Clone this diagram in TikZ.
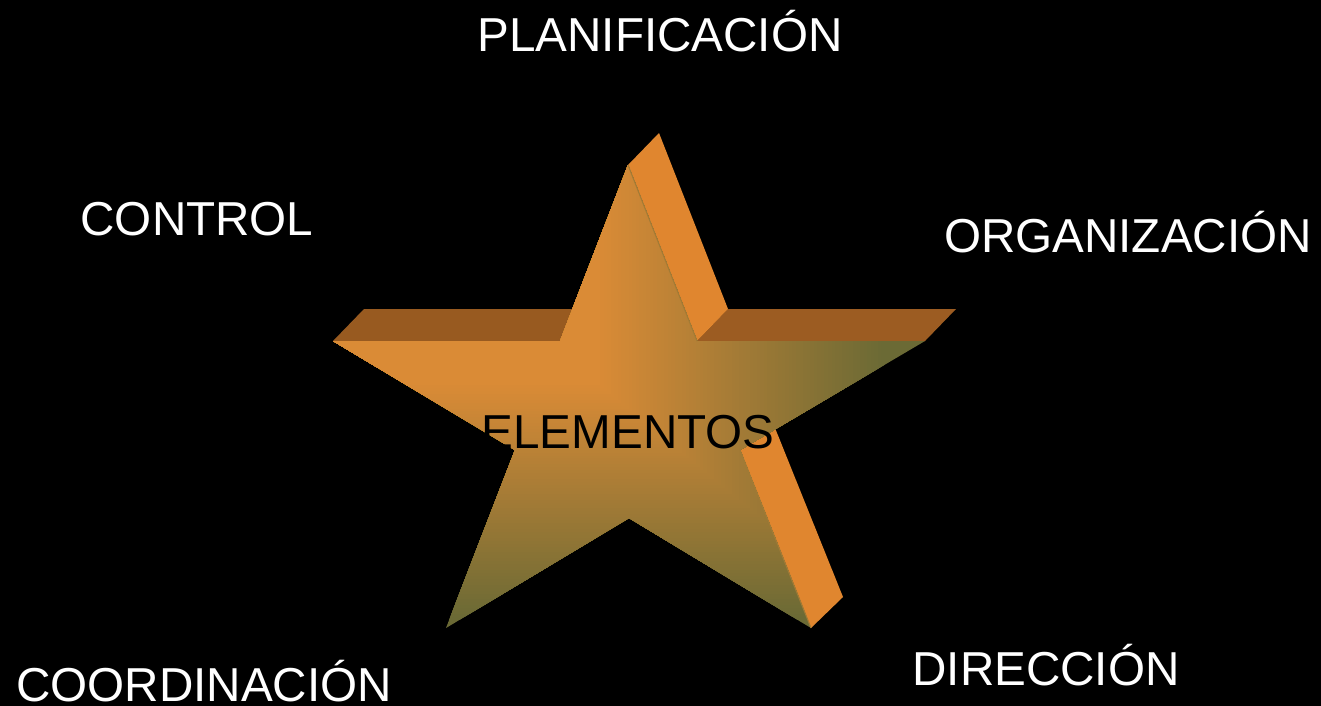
\documentclass[tikz,border=0pt]{standalone}
\usepackage{fontspec}
\setmainfont{Liberation Sans}
\definecolor{ora}{HTML}{DA8B36}
\definecolor{oli}{HTML}{6B6A35}
\definecolor{sideora}{HTML}{E0862F}
\definecolor{topbrown}{HTML}{985A20}
\definecolor{topbrownR}{HTML}{9C5C22}
\begin{document}
\begin{tikzpicture}[x=0.02cm,y=-0.02cm,
  lbl/.style={anchor=base,text=white,font=\fontsize{27.1}{32}\selectfont,inner sep=0pt},
  side/.style={fill=sideora},
  armtop/.style={fill=topbrown}]
\fill[black] (0,0) rectangle (1321,706);
\useasboundingbox (0,0) rectangle (1321,706);
% front vertices
\coordinate (T) at (628,165);
\coordinate (A) at (697,341);
\coordinate (R) at (925,341);
\coordinate (B) at (740,450);
\coordinate (BR) at (811,628);
\coordinate (M) at (629,518);
\coordinate (BL) at (446,628);
\coordinate (C) at (515,450);
\coordinate (L) at (333,341);
\coordinate (D) at (560,341);
% back vertices
\coordinate (Tb) at (659,133);
\coordinate (Ab) at (728,309);
\coordinate (Rb) at (956,309);
\coordinate (Bb) at (771,418);
\coordinate (BRb) at (843,597);
\coordinate (Lb) at (364,309);
\coordinate (Db) at (591,309);
\coordinate (G0) at (300,100);
% extruded faces
\fill[armtop] (L) -- (D) -- (Db) -- (Lb) -- cycle;
\fill[topbrownR] (A) -- (R) -- (Rb) -- (Ab) -- cycle;
\fill[side] (T) -- (Tb) -- (Ab) -- (A) -- cycle;
\fill[side] (B) -- (Bb) -- (BRb) -- (BR) -- cycle;
% front face with corner gradient
\begin{scope}
\clip (T) -- (A) -- (R) -- (B) -- (BR) -- (M) -- (BL) -- (C) -- (L) -- (D) -- cycle;
\fill[oli] (G0) rectangle (1000,700);
\foreach \i in {80,79,...,0} {
  \pgfmathsetmacro\p{100-\i*1.25}
  \pgfmathsetmacro\gx{600+3.5625*\i}
  \pgfmathsetmacro\gy{385+2.9375*\i}
  \fill[ora!\p!oli] (G0) rectangle (\gx,\gy);
}
\end{scope}
\draw[line width=0.6pt,color=oli!50!ora] (T) -- (A) (B) -- (BR);
% labels
\node[lbl] (plan) at (660,52) {PLANIFICACIÓN};
\node[lbl] (ctrl) at (197,235) {CONTROL};
\node[lbl] (org) at (1128,252) {ORGANIZACIÓN};
\node[lbl] (dir) at (1046,685) {DIRECCIÓN};
\node[lbl] (coord) at (204,701) {COORDINACIÓN};
\node[lbl,text=black] (elem) at (628,448) {ELEMENTOS};
\end{tikzpicture}
\end{document}
